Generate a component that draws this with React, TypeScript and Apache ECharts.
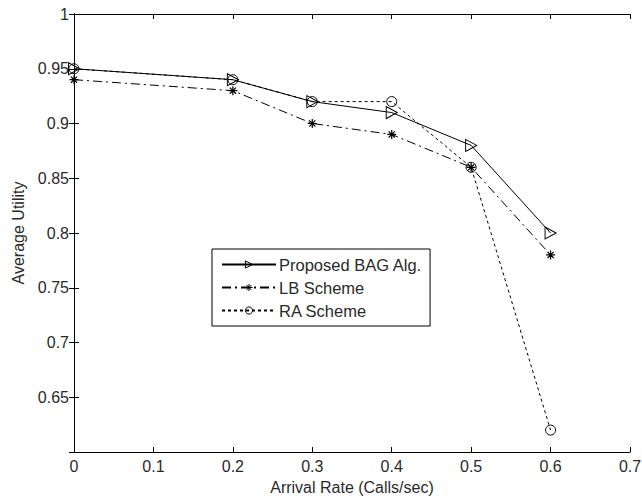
import React, { useEffect, useRef } from "react";
import * as echarts from "echarts";

const xValues = [0, 0.2, 0.3, 0.4, 0.5, 0.6];
const bagValues = [0.95, 0.94, 0.92, 0.91, 0.88, 0.8];
const lbValues = [0.94, 0.93, 0.9, 0.89, 0.86, 0.78];
const raValues = [0.95, 0.94, 0.92, 0.92, 0.86, 0.62];
const seriesNames = ["Proposed BAG Alg.", "LB Scheme", "RA Scheme"];

const FONT = "Liberation Sans, Arial, sans-serif";
const TXT = "#2a2a2a";

const triSym = "path://M0,0 L10,5 L0,10 Z";
const starSym = "path://M5,0 L5,10 M0,5 L10,5 M1.6,1.6 L8.4,8.4 M8.4,1.6 L1.6,8.4";

export default function App() {
  const ref = useRef<HTMLDivElement>(null);
  useEffect(() => {
    if (!ref.current) return;
    const chart = echarts.init(ref.current, null, { renderer: "svg" });
    const pts = (ys: number[]) => xValues.map((x, i) => [x, ys[i]]);
    const axisCommon = {
      axisLine: { show: true, lineStyle: { color: "#000", width: 1 } },
      axisTick: { show: true, inside: true, length: 5, lineStyle: { color: "#000" } },
      splitLine: { show: false },
    };
    chart.setOption({
      animation: false,
      backgroundColor: "#fff",
      textStyle: { fontFamily: FONT },
      grid: { left: 74, right: 12, top: 14, bottom: 50, containLabel: false, outerBoundsMode: "none" },
      legend: {
        show: true,
        orient: "vertical",
        left: 212,
        top: 249,
        itemWidth: 54,
        itemHeight: 9,
        itemGap: 6,
        padding: [7, 8, 7, 9],
        borderColor: "#000",
        borderWidth: 1,
        borderRadius: 0,
        backgroundColor: "#fff",
        itemStyle: { color: "rgba(255,255,255,0)", borderColor: "#000", borderWidth: 1 },
        textStyle: { fontFamily: FONT, fontSize: 16.5, color: TXT, padding: [0, 0, 0, -2] },
        data: seriesNames,
      },
      xAxis: [
        {
          type: "value",
          min: 0,
          max: 0.7,
          interval: 0.1,
          position: "bottom",
          ...axisCommon,
          axisLabel: { color: TXT, fontSize: 16, fontFamily: FONT, margin: 6 },
          name: "Arrival Rate (Calls/sec)",
          nameLocation: "middle",
          nameGap: 27,
          nameTextStyle: { color: TXT, fontSize: 16, fontFamily: FONT },
        },
        {
          type: "value",
          min: 0,
          max: 0.7,
          interval: 0.1,
          position: "top",
          ...axisCommon,
          axisLabel: { show: false },
        },
      ],
      yAxis: [
        {
          type: "value",
          min: 0.6,
          max: 1,
          interval: 0.05,
          position: "left",
          ...axisCommon,
          axisLabel: {
            color: TXT,
            fontSize: 16,
            fontFamily: FONT,
            margin: 5,
            formatter: (v: number) => (Math.abs(v - 0.6) < 1e-9 ? "" : String(parseFloat(v.toFixed(2)))),
          },
          name: "Average Utility",
          nameLocation: "middle",
          nameGap: 48,
          nameRotate: 90,
          nameTextStyle: { color: TXT, fontSize: 16, fontFamily: FONT },
        },
        {
          type: "value",
          min: 0.6,
          max: 1,
          interval: 0.05,
          position: "right",
          ...axisCommon,
          axisLabel: { show: false },
        },
      ],
      series: [
        {
          name: seriesNames[0],
          type: "line",
          data: pts(bagValues),
          symbol: triSym,
          symbolSize: [11, 12],
          lineStyle: { color: "#000", width: 1, type: "solid" },
          itemStyle: { color: "rgba(255,255,255,0)", borderColor: "#000", borderWidth: 1 },
        },
        {
          name: seriesNames[1],
          type: "line",
          data: pts(lbValues),
          symbol: starSym,
          symbolSize: 9,
          lineStyle: { color: "#000", width: 1, type: [9, 4, 2, 4] },
          itemStyle: { color: "rgba(255,255,255,0)", borderColor: "#000", borderWidth: 1.2 },
        },
        {
          name: seriesNames[2],
          type: "line",
          data: pts(raValues),
          symbol: "circle",
          symbolSize: 10,
          lineStyle: { color: "#000", width: 1, type: [3, 3] },
          itemStyle: { color: "rgba(255,255,255,0)", borderColor: "#000", borderWidth: 1 },
        },
      ],
    });
    return () => chart.dispose();
  }, []);
  return (
    <div
      ref={ref}
      style={{ position: "fixed", left: 0, top: 0, width: 642, height: 502 }}
    />
  );
}
